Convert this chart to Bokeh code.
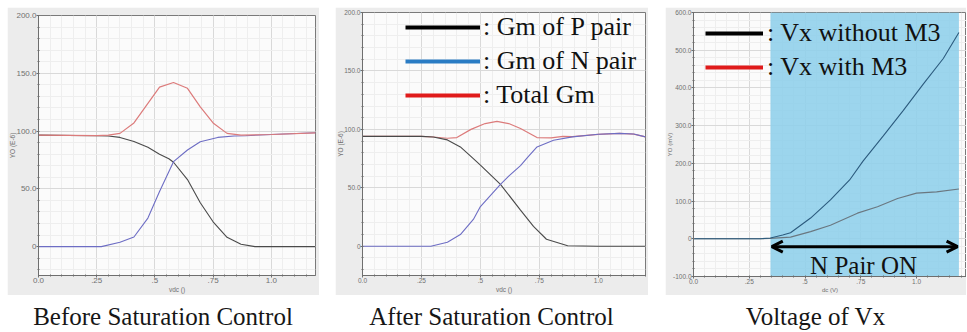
from bokeh.plotting import figure
from bokeh.models import (FixedTicker, BoxAnnotation, Arrow, OpenHead, Label,
                          Legend, LegendItem, Div, Spacer, Title)
from bokeh.layouts import row, column
from bokeh.embed import file_html
from bokeh.resources import INLINE

# ---------------- data: panel 1 (Before Saturation Control) ----------------
before_p_x = [0.0, 0.25, 0.30, 0.35, 0.41, 0.47, 0.52, 0.56, 0.58, 0.64, 0.695, 0.75, 0.81, 0.87, 0.93, 1.0, 1.19]
before_p_y = [96.5, 96.0, 95.7, 94.5, 91.0, 86.0, 80.0, 76.0, 73.0, 58.0, 38.0, 21.5, 8.0, 2.0, 0.0, 0.0, 0.0]
before_n_x = [0.0, 0.27, 0.35, 0.41, 0.47, 0.52, 0.58, 0.64, 0.695, 0.77, 0.84, 0.89, 1.0, 1.19]
before_n_y = [0.0, 0.0, 3.7, 8.3, 24.7, 47.7, 73.5, 83.6, 90.8, 94.5, 95.7, 96.0, 97.0, 98.5]
before_t_x = [0.0, 0.25, 0.30, 0.35, 0.41, 0.47, 0.52, 0.58, 0.64, 0.695, 0.75, 0.81, 0.87, 1.0, 1.19]
before_t_y = [96.5, 96.0, 96.5, 98.0, 107.0, 124.0, 138.0, 142.0, 137.0, 121.0, 107.0, 98.0, 96.5, 97.0, 98.5]

# ---------------- data: panel 2 (After Saturation Control) ----------------
after_p_x = [0.0, 0.25, 0.30, 0.36, 0.415, 0.47, 0.50, 0.585, 0.67, 0.725, 0.78, 0.87, 1.0, 1.2]
after_p_y = [94.0, 94.0, 93.5, 91.0, 85.0, 75.0, 69.5, 53.0, 31.0, 17.0, 6.0, 0.5, 0.0, 0.0]
after_n_x = [0.0, 0.29, 0.36, 0.415, 0.47, 0.50, 0.585, 0.62, 0.67, 0.70, 0.74, 0.81, 0.89, 1.0, 1.09, 1.15, 1.2]
after_n_y = [0.0, 0.0, 3.5, 10.0, 23.0, 34.0, 53.0, 60.0, 69.0, 76.0, 85.0, 90.7, 93.6, 95.8, 96.6, 96.0, 93.6]
after_t_x = [0.0, 0.25, 0.30, 0.36, 0.40, 0.46, 0.52, 0.57, 0.62, 0.67, 0.74, 0.80, 0.85, 0.89, 1.0, 1.09, 1.15, 1.2]
after_t_y = [94.0, 94.0, 93.5, 92.4, 93.0, 100.0, 105.0, 106.8, 105.0, 100.8, 93.0, 92.8, 94.0, 93.8, 95.8, 96.6, 96.0, 93.6]

# ---------------- data: panel 3 (Voltage of Vx) ----------------
vx_wo_x = [0.0, 0.30, 0.345, 0.40, 0.435, 0.525, 0.614, 0.70, 0.76, 0.85, 0.94, 1.03, 1.12, 1.19]
vx_wo_y = [0.0, 0.0, 2.0, 10.0, 16.0, 55.0, 103.0, 156.0, 206.0, 272.0, 340.0, 410.0, 478.0, 547.0]
vx_w_x = [0.0, 0.30, 0.345, 0.435, 0.525, 0.614, 0.735, 0.825, 0.915, 1.0, 1.09, 1.19]
vx_w_y = [0.0, 0.0, 1.0, 4.4, 19.0, 36.0, 68.0, 85.0, 107.0, 121.0, 124.5, 132.0]
n_pair_on = [0.345, 1.19]          # x-extent of the "N Pair ON" region

# ---------------- ticks & text ----------------
x_tick_vals = [0.0, 0.25, 0.5, 0.75, 1.0]
x_tick_labels = ["0.0", ".25", ".5", ".75", "1.0"]
gm_tick_vals = [0, 50, 100, 150, 200]
gm_tick_labels = ["0", "50.0", "100.0", "150.0", "200.0"]
vx_tick_vals = [-100, 0, 100, 200, 300, 400, 500, 600]
vx_tick_labels = ["-100.0", "0", "100.0", "200.0", "300.0", "400.0", "500.0", "600.0"]
gm_legend = [": Gm of P pair", ": Gm of N pair", ": Total Gm"]
vx_legend = [": Vx without M3", ": Vx with M3"]
captions = ["Before Saturation Control", "After Saturation Control", "Voltage of Vx"]

x_minor = [round(i * 0.05, 2) for i in range(0, 27)]
gm_minor = list(range(-20, 201, 10))
vx_minor = list(range(-100, 601, 20))

C_P, C_N, C_T = "#4a4a4a", "#6d6dc4", "#dc7b7b"
AX = "#6e6e6e"
NAN = [float("nan")]


def make_fig(width, height, xr, yr, bl, br, bt, bb, yticks, ylabels, yminor,
             xlabel, ylabel, tick_fs, lab_fs):
    p = figure(width=width, height=height, x_range=xr, y_range=yr,
               output_backend="svg", toolbar_location=None,
               min_border_left=bl, min_border_right=br, min_border_top=bt,
               min_border_bottom=bb, margin=0)
    p.border_fill_color = "#ececec"
    p.background_fill_color = "#fbfbfb"
    p.outline_line_color = "#7a7a7a"
    p.xaxis.ticker = FixedTicker(ticks=x_tick_vals, minor_ticks=x_minor)
    p.yaxis.ticker = FixedTicker(ticks=yticks, minor_ticks=yminor)
    p.xaxis.major_label_overrides = dict(zip(x_tick_vals, x_tick_labels))
    p.yaxis.major_label_overrides = dict(zip(yticks, ylabels))
    p.xaxis.axis_label = xlabel
    for ax in (p.xaxis[0], p.yaxis[0]):
        ax.axis_line_color = AX
        ax.major_tick_line_color = AX
        ax.minor_tick_line_color = AX
        ax.major_tick_out = 2
        ax.major_tick_in = 0
        ax.minor_tick_out = 1
        ax.minor_tick_in = 1
        ax.major_label_text_font = "Liberation Sans"
        ax.major_label_text_font_size = tick_fs
        ax.major_label_text_color = "#707070"
        ax.major_label_standoff = 0
        ax.axis_label_text_font = "Liberation Sans"
        ax.axis_label_text_font_size = lab_fs
        ax.axis_label_text_font_style = "normal"
        ax.axis_label_text_color = "#707070"
        ax.axis_label_standoff = 0
    # y-axis title as a side title left of the tick labels
    p.add_layout(Title(text=ylabel, align="center", standoff=-4, offset=0,
                       text_font="Liberation Sans", text_font_size=lab_fs,
                       text_font_style="normal", text_color="#707070"), "left")
    for g in (p.xgrid[0], p.ygrid[0]):
        g.grid_line_color = "#d9d9d9"
        g.minor_grid_line_color = "#eeeeee"
    return p


def caption(text, width):
    return Div(text=text, width=width, height=35, margin=0,
               styles={"font-family": "Liberation Serif", "font-size": "25px",
                       "text-align": "center", "color": "#161616",
                       "line-height": "26px", "padding-top": "9px",
                       "box-sizing": "border-box", "white-space": "nowrap"})


def legend(p, items, loc, glyph_w, standoff):
    lg = Legend(items=items, location=loc, orientation="vertical",
                background_fill_alpha=0, border_line_alpha=0,
                label_text_font="Liberation Serif", label_text_font_size="26px",
                label_text_color="#111111", glyph_width=glyph_w, glyph_height=28,
                label_height=28, label_standoff=standoff, spacing=4, padding=0, margin=0)
    p.add_layout(lg)


# ---------------- panel 1 ----------------
p1 = make_fig(312, 288, (0, 1.19), (-25, 200), 31, 4, 8, 19,
              gm_tick_vals, gm_tick_labels, gm_minor, "vdc ()", "YO (E-6)", "8px", "6.5px")
p1.line(before_p_x, before_p_y, line_color=C_P, line_width=1.1)
p1.line(before_n_x, before_n_y, line_color=C_N, line_width=1.1)
p1.line(before_t_x, before_t_y, line_color=C_T, line_width=1.2)

# ---------------- panel 2 ----------------
p2 = make_fig(313, 288, (0, 1.2), (-25, 200), 27, 3, 5, 19,
              gm_tick_vals, gm_tick_labels, gm_minor, "vdc ()", "YO (E-6)", "6.5px", "6.5px")
p2.line(after_t_x, after_t_y, line_color=C_T, line_width=1.2)
p2.line(after_p_x, after_p_y, line_color=C_P, line_width=1.1)
p2.line(after_n_x, after_n_y, line_color=C_N, line_width=1.1)
k1 = p2.line(NAN, NAN, line_color="#000000", line_width=4)
k2 = p2.line(NAN, NAN, line_color="#2a7cc4", line_width=4)
k3 = p2.line(NAN, NAN, line_color="#e01b1b", line_width=4)
legend(p2, [LegendItem(label=gm_legend[0], renderers=[k1]),
            LegendItem(label=gm_legend[1], renderers=[k2]),
            LegendItem(label=gm_legend[2], renderers=[k3])], (43, 165), 75, 3)

# ---------------- panel 3 ----------------
p3 = make_fig(301, 288, (0, 1.224), (-100, 600), 28, 0, 5, 18,
              vx_tick_vals, vx_tick_labels, vx_minor, "dc (V)", "YO (mV)", "6.5px", "6px")
p3.add_layout(BoxAnnotation(left=n_pair_on[0], right=n_pair_on[1], fill_color="#8ecfeb",
                            fill_alpha=0.88, line_color=None, level="underlay"))
p3.line(vx_w_x, vx_w_y, line_color="#6a7780", line_width=1.1)
p3.line(vx_wo_x, vx_wo_y, line_color="#2c5b7e", line_width=1.1)
p3.add_layout(Arrow(start=OpenHead(size=11, line_width=3, line_color="black"),
                    end=OpenHead(size=11, line_width=3, line_color="black"),
                    x_start=n_pair_on[0] + 0.006, y_start=-21,
                    x_end=n_pair_on[1] - 0.006, y_end=-21,
                    line_width=3, line_color="black"))
p3.add_layout(Label(x=(n_pair_on[0] + n_pair_on[1]) / 2 - 0.005, y=-70, text="N Pair ON",
                    text_font="Liberation Serif", text_font_size="25px",
                    text_color="#111111", text_align="center", text_baseline="middle"))
m1 = p3.line(NAN, NAN, line_color="#000000", line_width=4)
m2 = p3.line(NAN, NAN, line_color="#e01b1b", line_width=4)
legend(p3, [LegendItem(label=vx_legend[0], renderers=[m1]),
            LegendItem(label=vx_legend[1], renderers=[m2])], (12, 194), 58, 4)

panels = row(column(p1, caption(captions[0], 312)),
             Spacer(width=16, height=10),
             column(p2, caption(captions[1], 313)),
             Spacer(width=17, height=10),
             column(p3, caption(captions[2], 301)))
layout = column(Spacer(width=10, height=7), row(Spacer(width=7, height=10), panels))

open("out.html", "w").write(file_html(layout, INLINE))
